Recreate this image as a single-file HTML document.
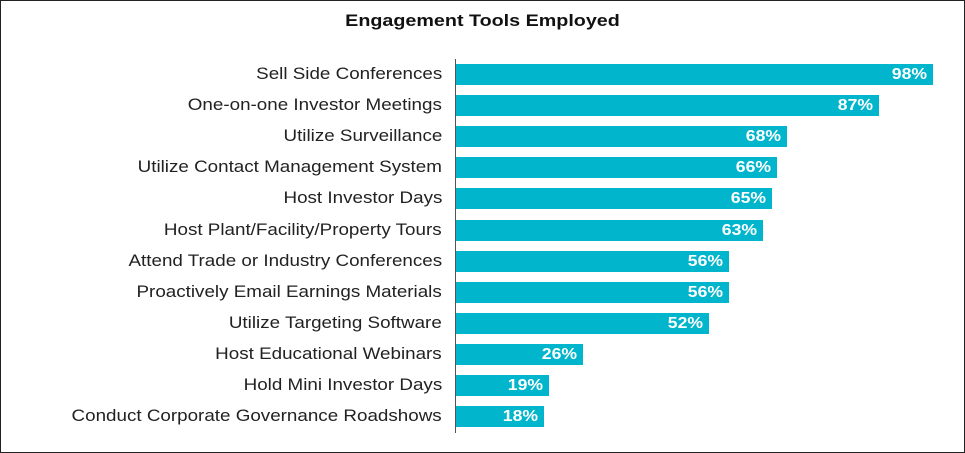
<!DOCTYPE html>
<html><head><style>
body{margin:0;background:#fff}
#c{position:relative;width:963px;height:451px;border:1px solid #222;font-family:"Liberation Sans",sans-serif;overflow:hidden}
.t{position:absolute;top:10px;left:0;width:963px;text-align:center;font-weight:bold;font-size:17px;color:#111;transform:scaleX(1.16)}
.ax{position:absolute;left:454px;top:58px;width:1px;height:374px;background:#555}
.r{position:absolute;left:0;width:963px;height:21px}
.l{position:absolute;right:522px;top:0;line-height:21px;font-size:16.5px;color:#222;white-space:nowrap;transform:scaleX(1.14);transform-origin:right center}
.b{position:absolute;left:455px;top:0;height:21px;background:#00b5cc}
.v{position:absolute;right:6px;top:0;line-height:21px;font-weight:bold;color:#fff;font-size:16px;transform:scaleX(1.1);transform-origin:right center}
</style></head><body><div id="c">
<div class="t">Engagement Tools Employed</div>
<div class="ax"></div>
<div class="r" style="top:63px"><div class="l">Sell Side Conferences</div><div class="b" style="width:477px"><span class="v">98%</span></div></div>
<div class="r" style="top:94px"><div class="l">One-on-one Investor Meetings</div><div class="b" style="width:423px"><span class="v">87%</span></div></div>
<div class="r" style="top:125px"><div class="l">Utilize Surveillance</div><div class="b" style="width:331px"><span class="v">68%</span></div></div>
<div class="r" style="top:156px"><div class="l">Utilize Contact Management System</div><div class="b" style="width:321px"><span class="v">66%</span></div></div>
<div class="r" style="top:187px"><div class="l">Host Investor Days</div><div class="b" style="width:316px"><span class="v">65%</span></div></div>
<div class="r" style="top:219px"><div class="l">Host Plant/Facility/Property Tours</div><div class="b" style="width:307px"><span class="v">63%</span></div></div>
<div class="r" style="top:250px"><div class="l">Attend Trade or Industry Conferences</div><div class="b" style="width:273px"><span class="v">56%</span></div></div>
<div class="r" style="top:281px"><div class="l">Proactively Email Earnings Materials</div><div class="b" style="width:273px"><span class="v">56%</span></div></div>
<div class="r" style="top:312px"><div class="l">Utilize Targeting Software</div><div class="b" style="width:253px"><span class="v">52%</span></div></div>
<div class="r" style="top:343px"><div class="l">Host Educational Webinars</div><div class="b" style="width:127px"><span class="v">26%</span></div></div>
<div class="r" style="top:374px"><div class="l">Hold Mini Investor Days</div><div class="b" style="width:93px"><span class="v">19%</span></div></div>
<div class="r" style="top:405px"><div class="l">Conduct Corporate Governance Roadshows</div><div class="b" style="width:88px"><span class="v">18%</span></div></div>
</div></body></html>
